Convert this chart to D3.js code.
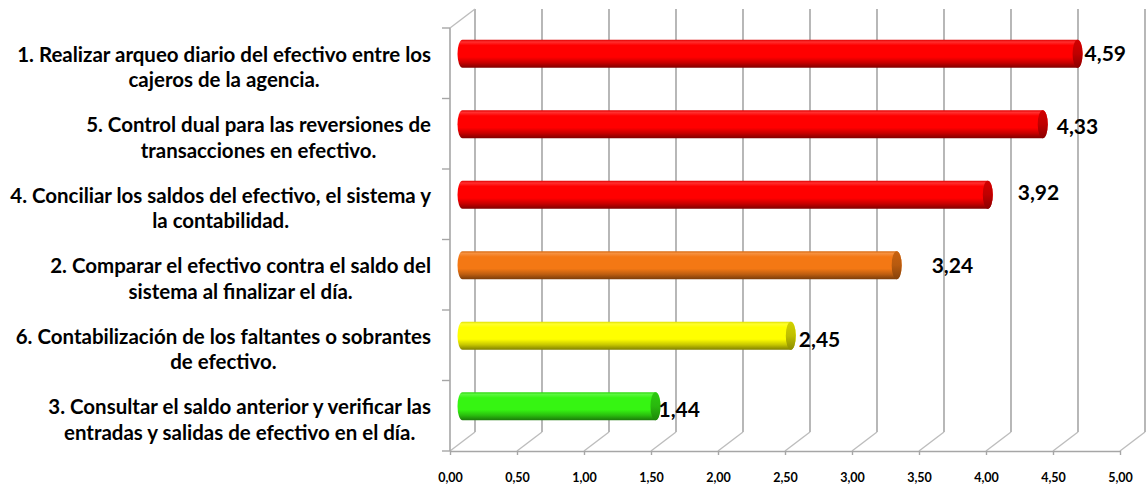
<!DOCTYPE html>
<html><head><meta charset="utf-8">
<script src="https://cdn.jsdelivr.net/npm/d3@7"></script>
<style>body{margin:0;background:#fff} svg{display:block}</style>
</head><body>
<svg id="chart" width="1146" height="487"></svg>
<script>
// ---- data ----
const categoryLines = [
  ["1. Realizar arqueo diario del efectivo entre los", "cajeros de la agencia."],
  ["5. Control dual para las reversiones de", "transacciones en efectivo."],
  ["4. Conciliar los saldos del efectivo, el sistema y", "la contabilidad."],
  ["2. Comparar el efectivo contra el saldo del", "sistema al finalizar el día."],
  ["6. Contabilización de los faltantes o sobrantes", "de efectivo."],
  ["3. Consultar el saldo anterior y verificar las", "entradas y salidas de efectivo en el día."]
];
const values = [4.59, 4.33, 3.92, 3.24, 2.45, 1.44];
const valueLabels = ["4,59", "4,33", "3,92", "3,24", "2,45", "1,44"];
const tickValues = [0, 0.5, 1, 1.5, 2, 2.5, 3, 3.5, 4, 4.5, 5];
const tickLabels = ["0,00", "0,50", "1,00", "1,50", "2,00", "2,50", "3,00", "3,50", "4,00", "4,50", "5,00"];
// ---- styles ----
const barColors = ["#ff0000", "#ff0000", "#ff0000", "#f47814", "#ffff00", "#36f512"];
const labelNudgeX = [2, 9, 25, 30, 3, -2];
const labelNudgeY = [0, 2, -2, 0, 4, 3];

const FONT = "Lato, 'Open Sans', sans-serif";
const front = {left: 450, right: 1120, top: 28, bottom: 451};
const DX = 25, DY = -19;
const GRID = "#a6a6a6";

const svg = d3.select("#chart");
const defs = svg.append("defs");

const x = d3.scaleLinear().domain([0, 5]).range([front.left, front.right]);
const y = d3.scaleBand().domain(d3.range(values.length)).range([front.top, front.bottom]);

// ---- walls / floor ----
const g = svg.append("g");
g.selectAll("line.back").data(tickValues).join("line")
  .attr("x1", d => x(d) + DX).attr("x2", d => x(d) + DX)
  .attr("y1", front.top + DY).attr("y2", front.bottom + DY)
  .attr("stroke", GRID).attr("stroke-width", 1.6);
g.selectAll("line.floor").data(tickValues).join("line")
  .attr("x1", d => x(d)).attr("x2", d => x(d) + DX)
  .attr("y1", front.bottom).attr("y2", front.bottom + DY)
  .attr("stroke", "#bdbdbd").attr("stroke-width", 1.4);
// left wall
g.append("line").attr("x1", x(0)).attr("x2", x(0)).attr("y1", front.top).attr("y2", front.bottom)
  .attr("stroke", GRID).attr("stroke-width", 1.6);
g.append("line").attr("x1", x(0)).attr("x2", x(0) + DX).attr("y1", front.top).attr("y2", front.top + DY)
  .attr("stroke", "#bdbdbd").attr("stroke-width", 1.4);
const bounds = d3.range(values.length + 1).map(i => i < values.length ? y(i) : front.bottom);
g.selectAll("line.lt").data(bounds).join("line")
  .attr("x1", x(0) - 8).attr("x2", x(0)).attr("y1", d => d).attr("y2", d => d)
  .attr("stroke", GRID).attr("stroke-width", 1.4);

// bottom axis
const axis = d3.axisBottom(x).tickValues(tickValues)
  .tickFormat((d, i) => tickLabels[i]).tickSize(4).tickSizeOuter(0);
const ax = svg.append("g").attr("transform", `translate(0,${front.bottom})`).call(axis);
ax.select(".domain").attr("stroke", GRID).attr("stroke-width", 1.6);
ax.selectAll(".tick line").attr("stroke", GRID).attr("stroke-width", 1.4);
ax.selectAll(".tick text").attr("y", 22).attr("dy", "0.71em")
  .attr("font-family", FONT).attr("font-weight", "bold").attr("font-size", 12.5).attr("fill", "#000");

// ---- bars (cylinders) ----
const R = 14, RX = 5;
const mix = (a, b, t) => d3.interpolateRgb(a, b)(t);
values.forEach((v, i) => {
  const c = barColors[i];
  const gr = defs.append("linearGradient").attr("id", "g" + i)
    .attr("x1", 0).attr("y1", 0).attr("x2", 0).attr("y2", 1);
  [[0, mix(c, "#000", 0.12)], [0.08, mix(c, "#fff", 0.18)], [0.2, c], [0.62, c],
   [0.82, mix(c, "#000", 0.22)], [1, mix(c, "#000", 0.5)]]
    .forEach(s => gr.append("stop").attr("offset", s[0]).attr("stop-color", s[1]));
  const cg = defs.append("linearGradient").attr("id", "c" + i)
    .attr("x1", 0).attr("y1", 0).attr("x2", 0).attr("y2", 1);
  [[0, mix(c, "#000", 0.18)], [0.5, mix(c, "#000", 0.25)], [1, mix(c, "#000", 0.45)]]
    .forEach(s => cg.append("stop").attr("offset", s[0]).attr("stop-color", s[1]));
});

const bars = svg.append("g").selectAll("g").data(values).join("g");
const cy = i => y(i) + y.bandwidth() / 2 + DY / 2;
const xl = x(0) + DX / 2;
bars.append("path")
  .attr("d", (v, i) => {
    const xr = x(v) + DX / 2, c = cy(i);
    return `M${xl},${c - R}L${xr},${c - R}A${RX},${R} 0 0 1 ${xr},${c + R}L${xl},${c + R}A${RX},${R} 0 0 1 ${xl},${c - R}Z`;
  })
  .attr("fill", (v, i) => `url(#g${i})`);
bars.append("ellipse")
  .attr("cx", v => x(v) + DX / 2).attr("cy", (v, i) => cy(i))
  .attr("rx", RX).attr("ry", R)
  .attr("fill", (v, i) => `url(#c${i})`);

// value labels
svg.append("g").selectAll("text").data(values).join("text")
  .attr("x", (v, i) => x(v) + DX / 2 + RX + labelNudgeX[i])
  .attr("y", (v, i) => cy(i) + labelNudgeY[i])
  .attr("dy", "0.36em")
  .attr("font-family", FONT).attr("font-weight", "bold").attr("font-size", 21).attr("fill", "#000")
  .text((v, i) => valueLabels[i]);

// ---- category labels ----
const labG = svg.append("g").attr("font-family", FONT).attr("font-weight", "bold").attr("fill", "#000");
// fit font size so the longest first line spans like the original
const probe = labG.append("text").attr("font-size", 17).text(categoryLines[0][0]);
const pw = probe.node().getComputedTextLength();
probe.remove();
const fs = 17 * 414 / pw;
const RIGHT = 431;
categoryLines.forEach((lines, i) => {
  const c = y(i) + y.bandwidth() / 2;
  const ts = lines.map((t, j) => labG.append("text").attr("font-size", fs)
    .attr("text-anchor", "middle").attr("y", c - 1.5 + j * 25.5).text(t));
  const w = d3.max(ts, t => t.node().getComputedTextLength());
  ts.forEach(t => t.attr("x", RIGHT - w / 2));
});
</script>
</body></html>
